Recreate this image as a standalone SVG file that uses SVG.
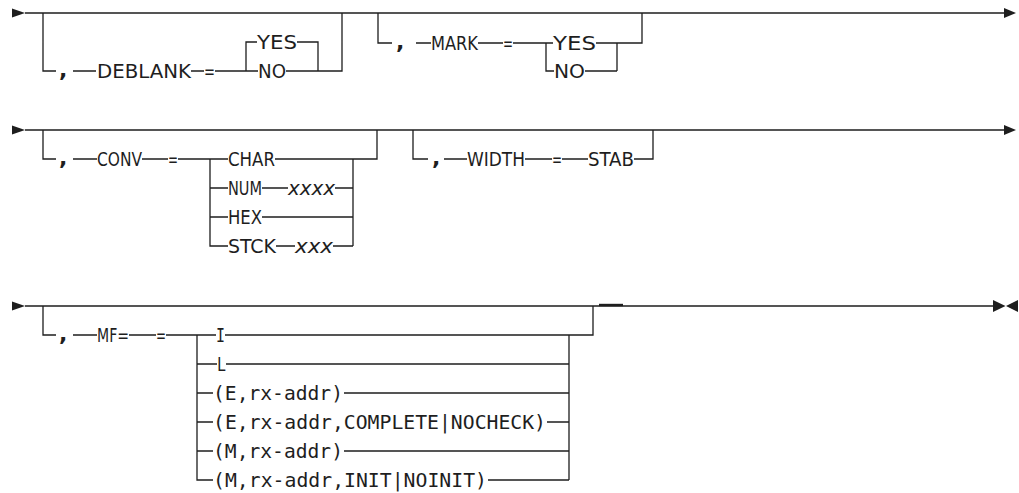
<svg xmlns="http://www.w3.org/2000/svg" width="1019" height="493" viewBox="0 0 1019 493">
<style>
.c{fill:none;stroke:#1e1e1e;stroke-width:1.3}
.t{font-family:"DejaVu Sans Condensed","Liberation Sans Narrow","DejaVu Sans",sans-serif;font-size:20px;fill:#1e1e1e}
.k{font-family:"DejaVu Sans",sans-serif;font-size:22px;font-weight:bold;fill:#1e1e1e}
.m{font-family:"DejaVu Sans Mono","Liberation Mono",monospace;font-size:20px;fill:#1e1e1e}
.i{font-style:italic}
.a{fill:#1e1e1e}
</style>
<rect width="1019" height="493" fill="#fff"/>
<g id="connectors">
<path class="c" d="M25,13 H1004 M43,13 V71 H56 M73,71 H96 M191,71 H204 M215,71 H246 M257,42 H246 V71 H258 M297,42 H318 V71 M286,71 H342 V13"/>
<path class="c" d="M378,13 V43 H392 M416,43 H431 M478,43 H503 M513,43 H546 V71 H554 M546,43 H553 M596,43 H617 V71 M585,71 H617 M617,43 H642 V13"/>
<path class="c" d="M25,130 H1004 M43,130 V159 H56 M73,159 H97 M142,159 H168 M178,159 H210 V246 H228 M210,188 H228 M210,217 H228 M210,159 H228 M275,159 H353 M262,188 H288 M335,188 H353 M262,217 H353 M276,246 H295 M333,246 H353 M353,159 V246 M353,159 H377 V130"/>
<path class="c" d="M413,130 V159 H428 M444,159 H467 M525,159 H552 M562,159 H588 M634,159 H653 V130"/>
<path class="c" d="M25,306 H993 M43,306 V335 H56 M73,335 H97 M129,335 H156 M166,335 H197 V480 H213 M197,335 H216 M197,364 H217 M197,393 H213 M197,422 H213 M197,451 H213 M225,335 H569 M226,364 H569 M344,393 H569 M547,422 H569 M344,451 H569 M488,480 H569 M569,335 V480 M569,335 H593 V306"/>
<path class="c" d="M599,305 H623" style="stroke-width:2.4"/>
<polygon class="a" points="12,8.5 25,13 12,17.5"/>
<polygon class="a" points="1004,8 1016,13 1004,18"/>
<polygon class="a" points="12,125.5 25,130 12,134.5"/>
<polygon class="a" points="1004,125 1016,130 1004,135"/>
<polygon class="a" points="12,301.5 25,306 12,310.5"/>
<polygon class="a" points="993,300 1005.5,306 993,312"/>
<polygon class="a" points="1018,300 1006,306 1018,312"/>
</g>
<g id="deblank">
<text class="k" x="59" y="77">,</text>
<text class="t" x="97" y="78" textLength="94" lengthAdjust="spacingAndGlyphs">DEBLANK</text>
<text class="t" x="204" y="78" textLength="11" lengthAdjust="spacingAndGlyphs">=</text>
<text class="t" x="257" y="49" textLength="40" lengthAdjust="spacingAndGlyphs">YES</text>
<text class="t" x="258" y="78" textLength="28" lengthAdjust="spacingAndGlyphs">NO</text>
</g>
<g id="mark">
<text class="k" x="396" y="49">,</text>
<text class="t" x="431" y="50" textLength="47" lengthAdjust="spacingAndGlyphs">MARK</text>
<text class="t" x="503" y="50" textLength="10" lengthAdjust="spacingAndGlyphs">=</text>
<text class="t" x="553" y="50" textLength="43" lengthAdjust="spacingAndGlyphs">YES</text>
<text class="t" x="554" y="78" textLength="31" lengthAdjust="spacingAndGlyphs">NO</text>
</g>
<g id="conv">
<text class="k" x="59" y="165">,</text>
<text class="t" x="97" y="166" textLength="45" lengthAdjust="spacingAndGlyphs">CONV</text>
<text class="t" x="168" y="166" textLength="10" lengthAdjust="spacingAndGlyphs">=</text>
<text class="t" x="228" y="166" textLength="47" lengthAdjust="spacingAndGlyphs">CHAR</text>
<text class="t" x="228" y="195" textLength="34" lengthAdjust="spacingAndGlyphs">NUM</text>
<text class="t i" x="288" y="194.5" textLength="47" lengthAdjust="spacingAndGlyphs">xxxx</text>
<text class="t" x="228" y="224" textLength="34" lengthAdjust="spacingAndGlyphs">HEX</text>
<text class="t" x="228" y="253" textLength="48" lengthAdjust="spacingAndGlyphs">STCK</text>
<text class="t i" x="295" y="252.5" textLength="38" lengthAdjust="spacingAndGlyphs">xxx</text>
</g>
<g id="width">
<text class="k" x="432" y="165">,</text>
<text class="t" x="467" y="166" textLength="58" lengthAdjust="spacingAndGlyphs">WIDTH</text>
<text class="t" x="552" y="166" textLength="10" lengthAdjust="spacingAndGlyphs">=</text>
<text class="t" x="588" y="166" textLength="46" lengthAdjust="spacingAndGlyphs">STAB</text>
</g>
<g id="mf">
<text class="k" x="59" y="341">,</text>
<text class="t" x="97" y="342" textLength="32" lengthAdjust="spacingAndGlyphs">MF=</text>
<text class="t" x="156" y="342" textLength="10" lengthAdjust="spacingAndGlyphs">=</text>
<text class="m" x="216" y="342" textLength="9" lengthAdjust="spacingAndGlyphs">I</text>
<text class="m" x="217" y="371" textLength="9" lengthAdjust="spacingAndGlyphs">L</text>
<text class="m" x="213" y="400" textLength="130" lengthAdjust="spacingAndGlyphs">(E,rx-addr)</text>
<text class="m" x="213" y="429" textLength="333" lengthAdjust="spacingAndGlyphs">(E,rx-addr,COMPLETE|NOCHECK)</text>
<text class="m" x="213" y="458" textLength="130" lengthAdjust="spacingAndGlyphs">(M,rx-addr)</text>
<text class="m" x="213" y="487" textLength="274" lengthAdjust="spacingAndGlyphs">(M,rx-addr,INIT|NOINIT)</text>
</g>
</svg>
